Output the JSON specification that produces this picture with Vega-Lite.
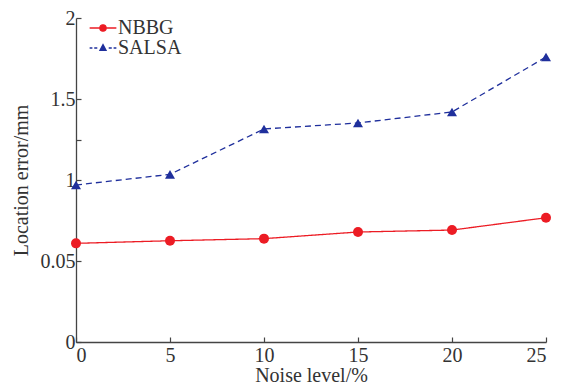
{
  "$schema": "https://vega.github.io/schema/vega-lite/v6.json",
  "width": 470,
  "height": 324,
  "autosize": {"type": "none"},
  "padding": {"left": 76, "top": 18, "right": 19, "bottom": 46},
  "background": "white",
  "config": {
    "view": {"stroke": null},
    "font": "Liberation Serif",
    "axis": {
      "labelFont": "Liberation Serif",
      "titleFont": "Liberation Serif",
      "labelFontSize": 20,
      "titleFontSize": 20,
      "titleFontWeight": "normal",
      "labelColor": "#333",
      "titleColor": "#333",
      "domainColor": "#444",
      "tickColor": "#444",
      "domainWidth": 1.3,
      "tickWidth": 1.2,
      "grid": false
    }
  },
  "data": {
    "values": [
      {"noise": 0, "error": 0.609, "method": "NBBG"},
      {"noise": 5, "error": 0.625, "method": "NBBG"},
      {"noise": 10, "error": 0.638, "method": "NBBG"},
      {"noise": 15, "error": 0.679, "method": "NBBG"},
      {"noise": 20, "error": 0.691, "method": "NBBG"},
      {"noise": 25, "error": 0.767, "method": "NBBG"},
      {"noise": 0, "error": 0.969, "method": "SALSA"},
      {"noise": 5, "error": 1.035, "method": "SALSA"},
      {"noise": 10, "error": 1.315, "method": "SALSA"},
      {"noise": 15, "error": 1.352, "method": "SALSA"},
      {"noise": 20, "error": 1.42, "method": "SALSA"},
      {"noise": 25, "error": 1.759, "method": "SALSA"}
    ]
  },
  "encoding": {
    "x": {
      "field": "noise",
      "type": "quantitative",
      "scale": {"domain": [0, 25], "nice": false},
      "axis": {
        "values": [0, 5, 10, 15, 20, 25],
        "title": "Noise level/%",
        "tickSize": -5,
        "labelPadding": 8,
        "titlePadding": 0
      }
    },
    "y": {
      "field": "error",
      "type": "quantitative",
      "scale": {"domain": [0, 2], "nice": false},
      "axis": {
        "values": [0, 0.5, 1, 1.25, 1.5, 2],
        "labelExpr": "datum.value == 0.5 ? '0.05' : datum.value == 1.25 ? '' : format(datum.value, '~g')",
        "title": "Location error/mm",
        "tickSize": -5,
        "labelPadding": 6,
        "titlePadding": 9
      }
    },
    "color": {
      "field": "method",
      "type": "nominal",
      "scale": {"domain": ["NBBG", "SALSA"], "range": ["#ec1c24", "#1f2f9c"]},
      "legend": {
        "title": null,
        "orient": "none",
        "legendX": 17,
        "legendY": 0,
        "labelFont": "Liberation Serif",
        "labelFontSize": 20,
        "labelColor": "#333",
        "symbolSize": 340,
        "symbolStrokeWidth": 1.3,
        "rowPadding": 0,
        "labelOffset": 5,
        "encoding": {
          "symbols": {
            "shape": {"value": {"expr": "datum.value == 'NBBG' ? 'M-1.45,0H-0.3M0.3,0H1.45M0.34,0A0.34,0.34 0 1 1 -0.34,0A0.34,0.34 0 1 1 0.34,0Z' : 'M-1.45,0H-1.15M-0.95,0H-0.62M0.62,0H0.95M1.15,0H1.45M0,-0.36L0.33,0.25L-0.33,0.25Z'"}},
            "fill": {"value": {"expr": "datum.value == 'NBBG' ? '#ec1c24' : '#1f2f9c'"}},
            "stroke": {"value": {"expr": "datum.value == 'NBBG' ? '#ec1c24' : '#1f2f9c'"}}
          }
        }
      }
    }
  },
  "layer": [
    {
      "mark": {"type": "line", "strokeWidth": 1.3},
      "encoding": {
        "strokeDash": {
          "condition": {"test": "datum.method == 'SALSA'", "value": [6, 4]},
          "value": [1, 0]
        }
      }
    },
    {
      "mark": {"type": "point", "filled": true, "opacity": 1, "size": 100},
      "encoding": {
        "shape": {
          "condition": {"test": "datum.method == 'SALSA'", "value": "triangle-up"},
          "value": "circle"
        }
      }
    }
  ]
}
